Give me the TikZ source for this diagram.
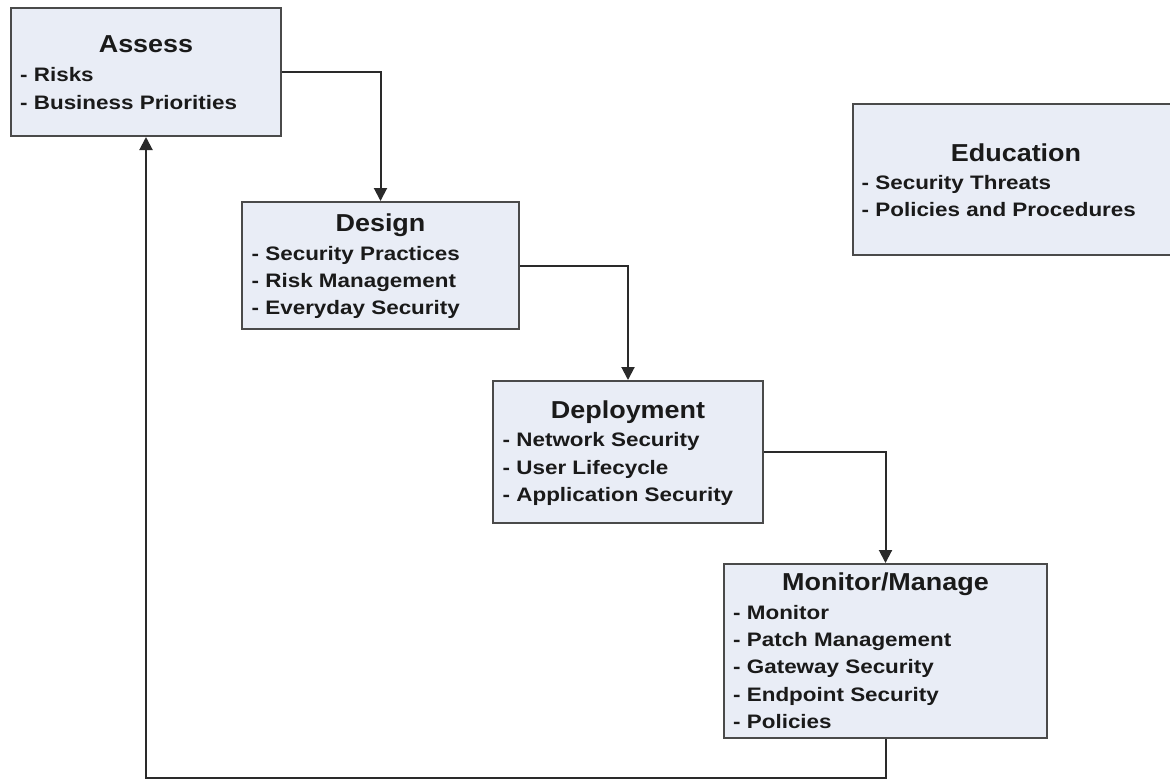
\documentclass[tikz,border=0pt]{standalone}
\usepackage{fontspec}
\setmainfont{Liberation Sans}
\newfontfamily\titlefont[FakeStretch=1.1]{Liberation Sans}
\newfontfamily\itemfont[FakeStretch=1.15]{Liberation Sans}
\usetikzlibrary{arrows.meta}
\definecolor{boxfill}{HTML}{E9EDF6}
\definecolor{boxline}{HTML}{4A4A4A}
\definecolor{wire}{HTML}{2A2A2A}
\definecolor{txt}{HTML}{1A1A1A}
\begin{document}
\begin{tikzpicture}[x=1pt,y=-1pt,
  stage/.style={draw=boxline,line width=2pt,fill=boxfill,inner sep=0pt},
  ttl/.style={anchor=base,inner sep=0pt,text=txt,font=\titlefont\bfseries\fontsize{24.5}{28}\selectfont},
  lst/.style={anchor=base west,inner sep=0pt,text=txt,font=\itemfont\bfseries\fontsize{19.5}{27.3}\selectfont},
  link/.style={draw=wire,line width=2pt,-{Triangle[width=13pt,length=13pt]}}]
\useasboundingbox (0,0) rectangle (1170,780);

% boxes
\node[stage,minimum width=270pt,minimum height=128pt] (assess) at (146,72) {};
\node[stage,minimum width=277pt,minimum height=127pt] (design) at (380.5,265.5) {};
\node[stage,minimum width=270pt,minimum height=142pt] (deploy) at (628,452) {};
\node[stage,minimum width=323pt,minimum height=174pt] (monitor) at (885.5,651) {};
\node[stage,minimum width=326pt,minimum height=151pt] (edu) at (1016,179.5) {};

% titles
\node[ttl] (assessT) at (146,52.7) {Assess};
\node[ttl] (designT) at (380.5,231.7) {Design};
\node[ttl] (deployT) at (628,418.3) {Deployment};
\node[ttl] (monitorT) at (885.5,590) {Monitor/Manage};
\node[ttl] (eduT) at (1016,161) {Education};

% lists
\node[lst] (assessL) at (20,81.7) {\begin{tabular}[t]{@{}l@{}}- Risks\\- Business Priorities\end{tabular}};
\node[lst] (designL) at (251.5,260) {\begin{tabular}[t]{@{}l@{}}- Security Practices\\- Risk Management\\- Everyday Security\end{tabular}};
\node[lst] (deployL) at (502.5,446.7) {\begin{tabular}[t]{@{}l@{}}- Network Security\\- User Lifecycle\\- Application Security\end{tabular}};
\node[lst] (monitorL) at (733,619.3) {\begin{tabular}[t]{@{}l@{}}- Monitor\\- Patch Management\\- Gateway Security\\- Endpoint Security\\- Policies\end{tabular}};
\node[lst] (eduL) at (861.5,189.3) {\begin{tabular}[t]{@{}l@{}}- Security Threats\\- Policies and Procedures\end{tabular}};

% connectors
\draw[link] (assess.east) -| (design.north);
\draw[link] (design.east) -| (deploy.north);
\draw[link] (deploy.east) -| (monitor.north);
\coordinate (loop) at (500,778);
\draw[link] (monitor.south) |- (loop) -| (assess.south);
\end{tikzpicture}
\end{document}
